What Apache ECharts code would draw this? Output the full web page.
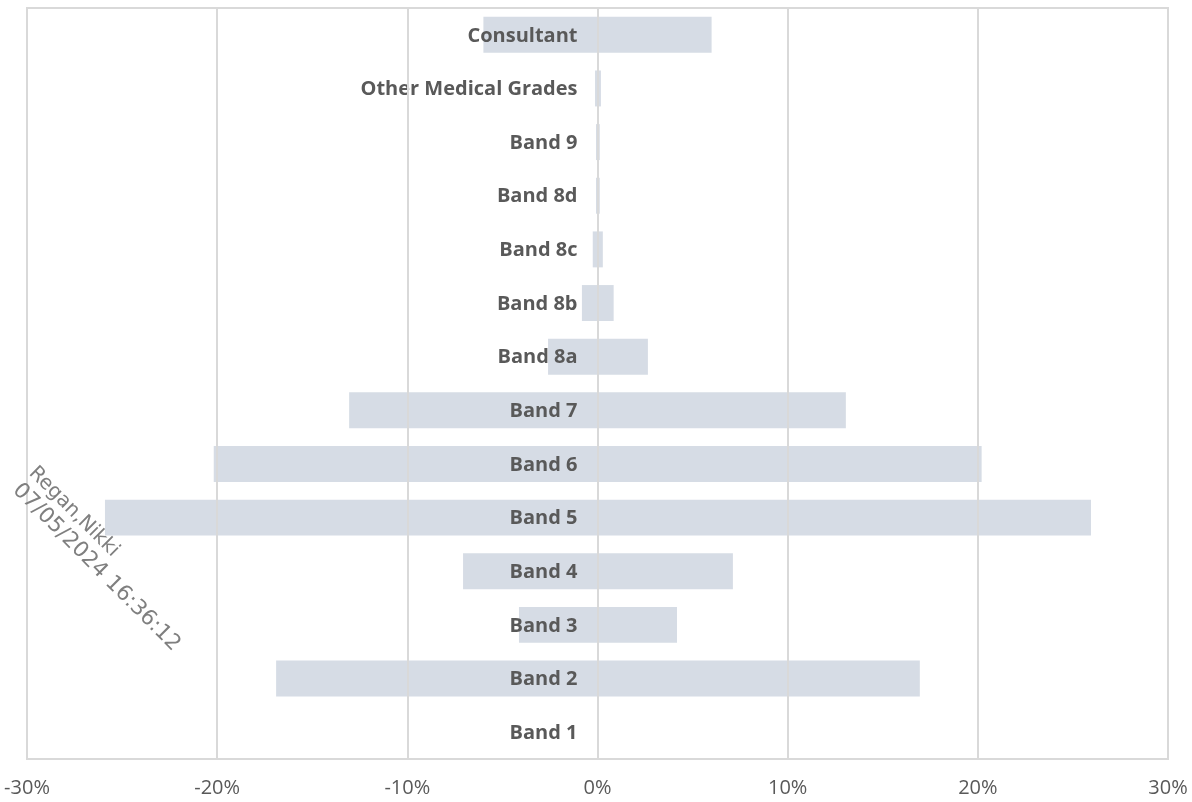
<!DOCTYPE html>
<html>
<head>
<meta charset="utf-8">
<script src="https://cdn.jsdelivr.net/npm/echarts@6/dist/echarts.min.js"></script>
<style>
  html, body { margin: 0; padding: 0; background: #ffffff; }
  #chart { width: 1192px; height: 802px; }
</style>
</head>
<body>
<div id="chart"></div>
<script>
// Staff grades, listed top to bottom
const categories = [
  'Consultant', 'Other Medical Grades', 'Band 9', 'Band 8d', 'Band 8c',
  'Band 8b', 'Band 8a', 'Band 7', 'Band 6', 'Band 5', 'Band 4', 'Band 3',
  'Band 2', 'Band 1'
];
// Share of headcount (%) drawn to the left of zero
const leftShare = [-6.0, -0.13, -0.08, -0.08, -0.25, -0.82, -2.6, -13.06, -20.18, -25.9, -7.07, -4.13, -16.9, 0];
// Share of headcount (%) drawn to the right of zero
const rightShare = [6.0, 0.18, 0.12, 0.12, 0.28, 0.85, 2.65, 13.06, 20.2, 25.95, 7.12, 4.18, 16.95, 0];
// Horizontal axis range and step (%)
const xMin = -30, xMax = 30, xStep = 10;

const barColor = '#D6DCE5';
const textColor = '#595959';
const gridColor = '#d9d9d9';

const chart = echarts.init(document.getElementById('chart'), null, { renderer: 'canvas' });

chart.setOption({
  animation: false,
  backgroundColor: '#ffffff',
  grid: {
    left: 27, right: 24, top: 8, bottom: 43,
    show: true, borderColor: gridColor, borderWidth: 2,
    containLabel: false, outerBoundsMode: 'none'
  },
  xAxis: {
    type: 'value',
    min: xMin, max: xMax, interval: xStep,
    z: 10,
    axisLine: { show: false },
    axisTick: { show: false },
    splitLine: { show: true, lineStyle: { color: gridColor, width: 2 } },
    axisLabel: {
      margin: 19,
      color: textColor,
      fontFamily: '"Open Sans", sans-serif',
      fontSize: 20,
      formatter: v => v + '%'
    }
  },
  yAxis: {
    type: 'category',
    data: categories,
    inverse: true,
    axisLine: { show: false },
    axisTick: { show: false },
    splitLine: { show: false },
    axisLabel: { show: false }
  },
  series: [
    {
      type: 'bar',
      data: leftShare,
      barCategoryGap: '33%',
      barGap: '-100%',
      itemStyle: { color: barColor },
      z: 2,
      // grade names, right-aligned just left of the zero line
      label: {
        show: true,
        position: 'insideRight',
        distance: 20,
        offset: [0, 1],
        formatter: '{b}',
        color: textColor,
        fontFamily: '"Open Sans", sans-serif',
        fontWeight: 'bold',
        fontSize: 20
      }
    },
    {
      type: 'bar',
      data: rightShare,
      barCategoryGap: '33%',
      barGap: '-100%',
      itemStyle: { color: barColor },
      z: 2
    }
  ],
  graphic: [
    {
      type: 'text', x: 32, y: 470, rotation: -Math.PI / 4, z: 100,
      style: {
        text: 'Regan,Nikki', fill: '#7f7f7f',
        fontFamily: '"DejaVu Sans", sans-serif', fontSize: 20,
        align: 'left', verticalAlign: 'middle'
      }
    },
    {
      type: 'text', x: 16, y: 487, rotation: -Math.PI / 4, z: 100,
      style: {
        text: '07/05/2024 16:36:12', fill: '#7f7f7f',
        fontFamily: '"DejaVu Sans", sans-serif', fontSize: 21.5,
        align: 'left', verticalAlign: 'middle'
      }
    }
  ]
});
</script>
</body>
</html>
